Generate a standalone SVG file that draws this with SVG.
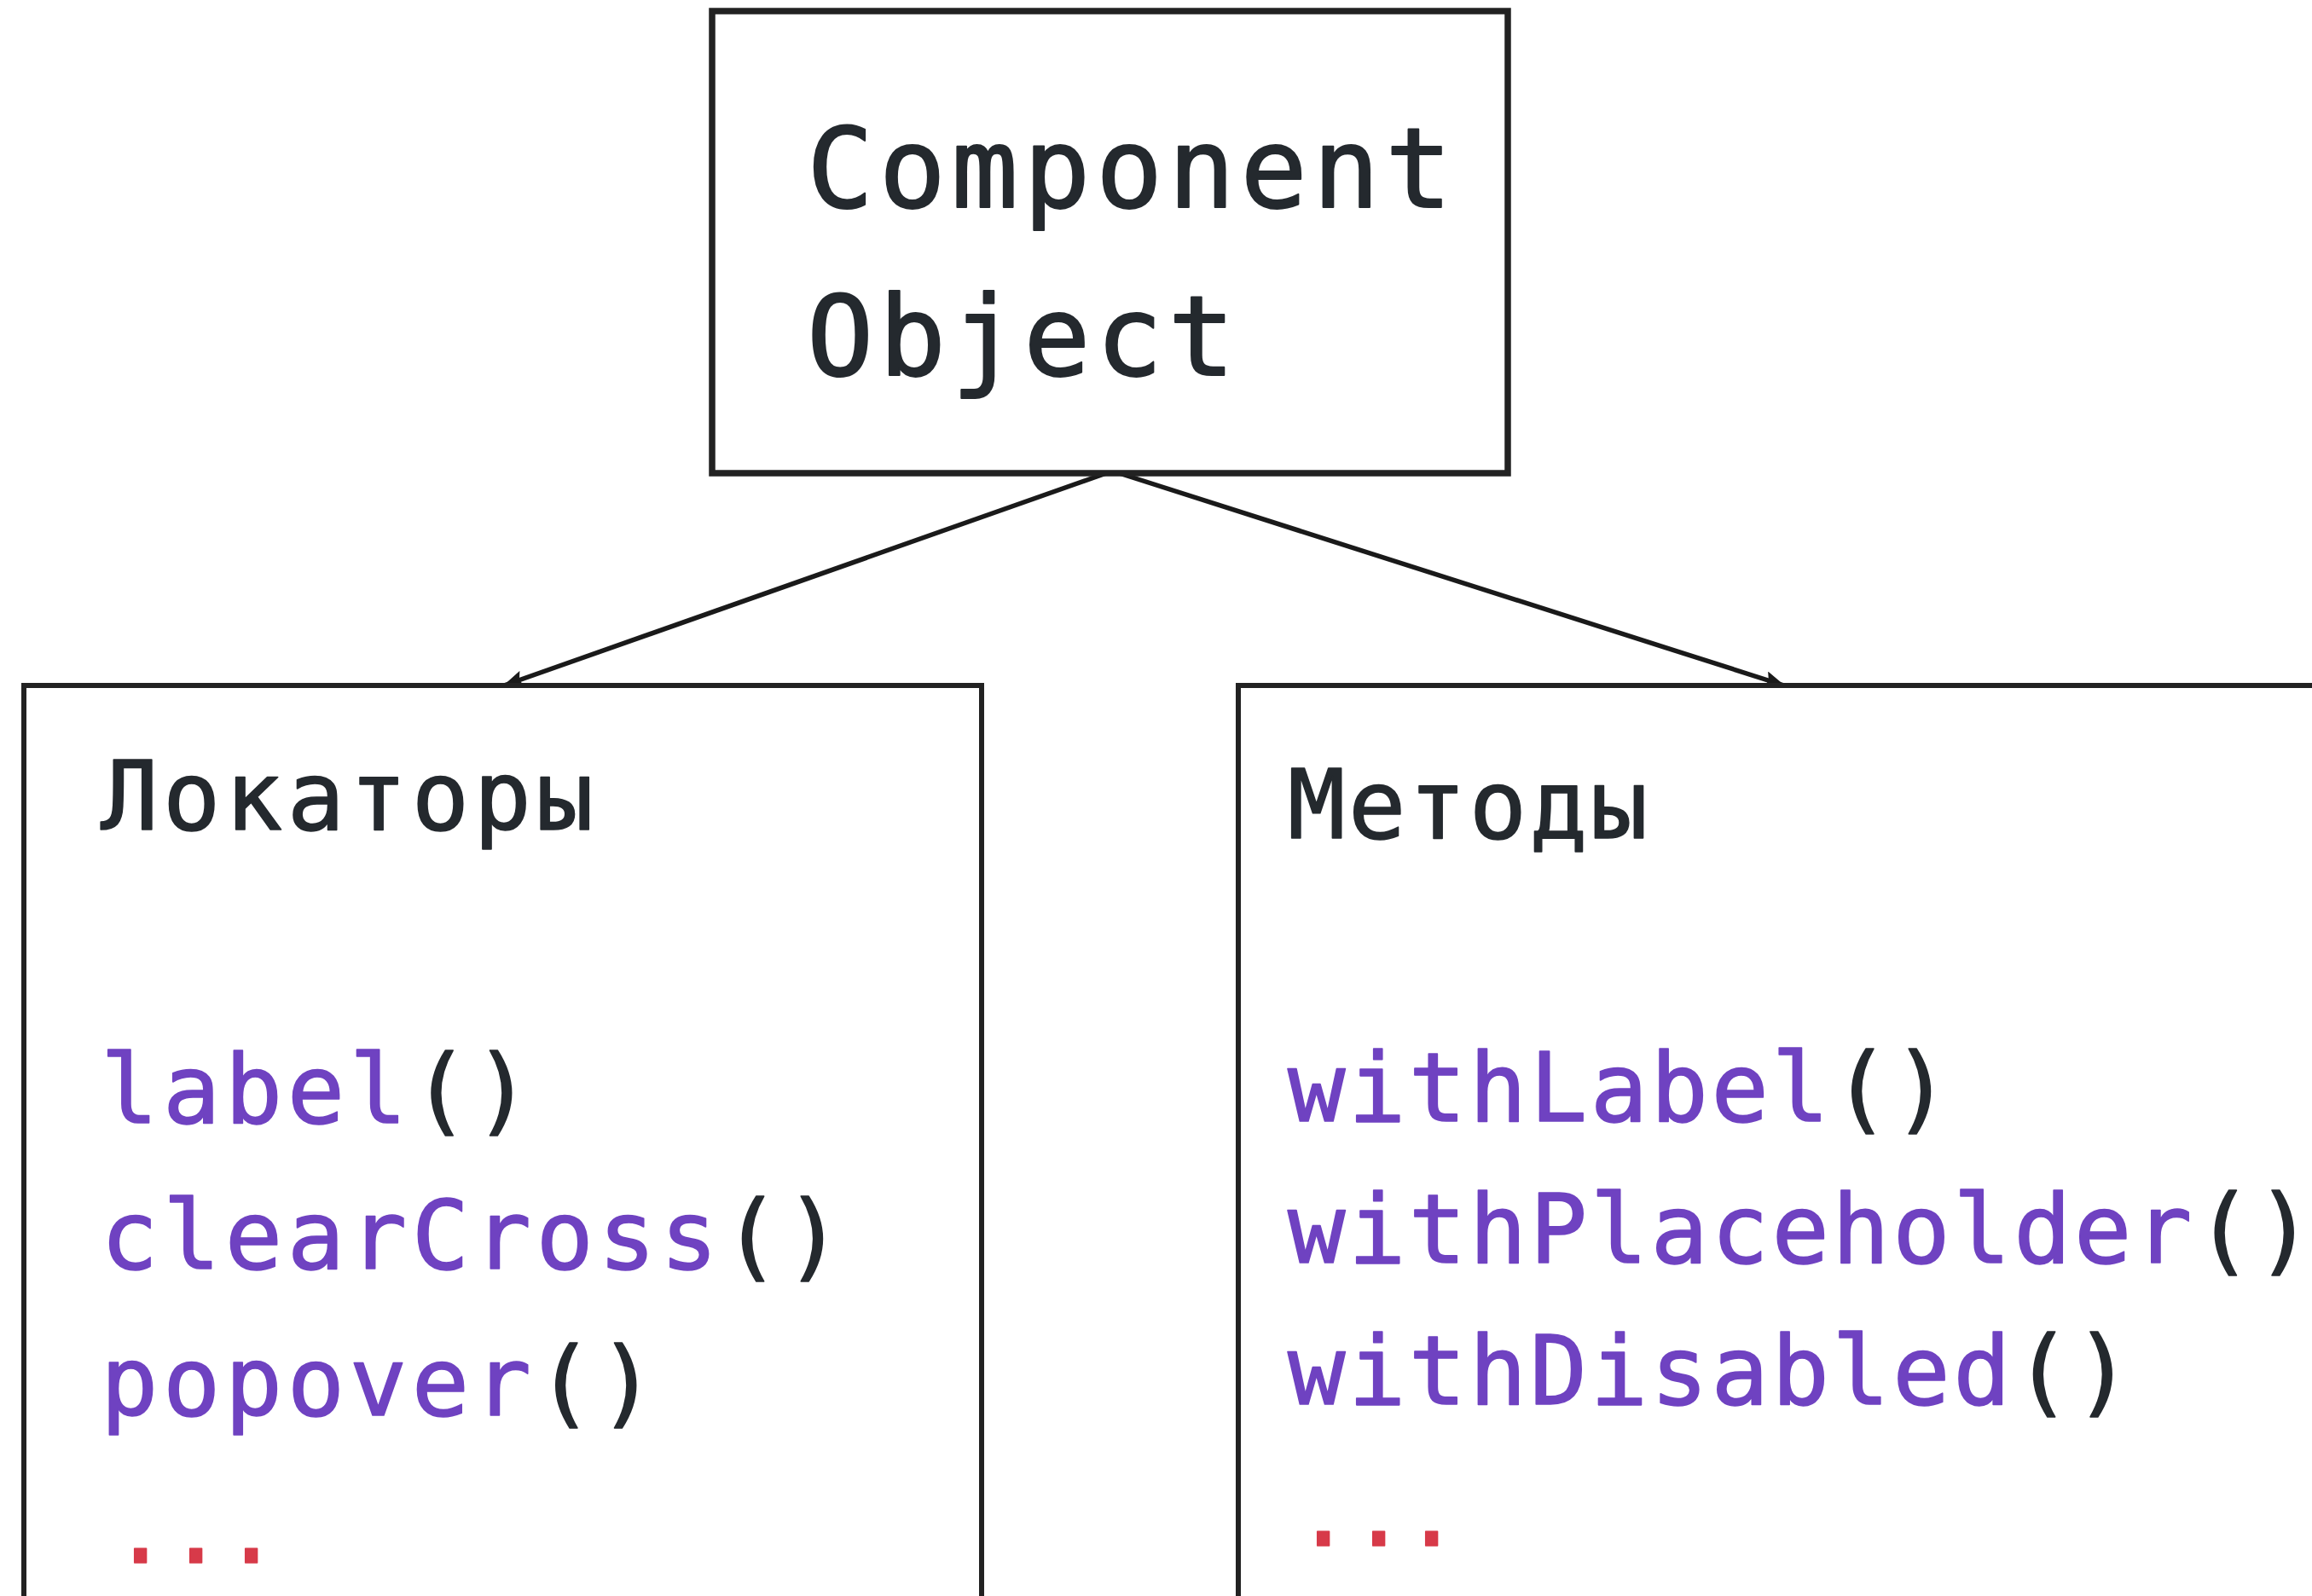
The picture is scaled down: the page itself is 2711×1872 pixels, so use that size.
<svg xmlns="http://www.w3.org/2000/svg" width="2711" height="1872" viewBox="0 0 2711 1872">
<style>
.box{fill:#ffffff;stroke:#222222;stroke-width:6}
.top{stroke-width:7.5}
.t{font-family:"DejaVu Sans Mono","Liberation Mono",monospace;fill:#24292e;stroke:#24292e;stroke-width:1.6;stroke-linejoin:round}
.big{font-size:130px;letter-spacing:6.5px;stroke-width:2}
.l{font-size:112px;letter-spacing:5.5px}
.r{font-size:112px;letter-spacing:3.5px}
.fn{fill:#6f42c1;stroke:#6f42c1}
.dots{fill:#d73a49;stroke:#d73a49}
.conn{stroke:#1a1a1a;stroke-width:5.5;fill:none}
</style>
<defs>
<marker id="arrow" markerUnits="userSpaceOnUse" viewBox="0 0 24 20" markerWidth="24" markerHeight="20" refX="23" refY="10" orient="auto">
<path d="M0,0 L24,10 L0,20 L4,10 z" fill="#1a1a1a"/>
</marker>
</defs>
<rect width="2711" height="1872" fill="#ffffff"/>
<g id="connectors">
<line class="conn" x1="1303" y1="553" x2="591" y2="804" marker-end="url(#arrow)"/>
<line class="conn" x1="1306" y1="553" x2="2092" y2="804" marker-end="url(#arrow)"/>
</g>
<g id="component-object">
<rect class="box top" x="835" y="13" width="933" height="542"/>
<text class="t big" x="946" y="243">Component</text>
<text class="t big" x="946" y="440">Object</text>
</g>
<g id="locators">
<rect class="box" x="28" y="804" width="1123" height="1120"/>
<text class="t l" x="118" y="973">Локаторы</text>
<text class="t l" x="118" y="1317"><tspan class="fn">label</tspan>()</text>
<text class="t l" x="118" y="1488"><tspan class="fn">clearCross</tspan>()</text>
<text class="t l" x="118" y="1660"><tspan class="fn">popover</tspan>()</text>
<text class="t l dots" x="131 196 261" y="1833">...</text>
</g>
<g id="methods">
<rect class="box" x="1452" y="804" width="1400" height="1120"/>
<text class="t r" x="1510" y="983">Методы</text>
<text class="t r" x="1510" y="1315"><tspan class="fn">withLabel</tspan>()</text>
<text class="t r" x="1510" y="1481"><tspan class="fn">withPlaceholder</tspan>()</text>
<text class="t r" x="1510" y="1647"><tspan class="fn">withDisabled</tspan>()</text>
<text class="t r dots" x="1518 1583 1645" y="1813">...</text>
</g>
</svg>
